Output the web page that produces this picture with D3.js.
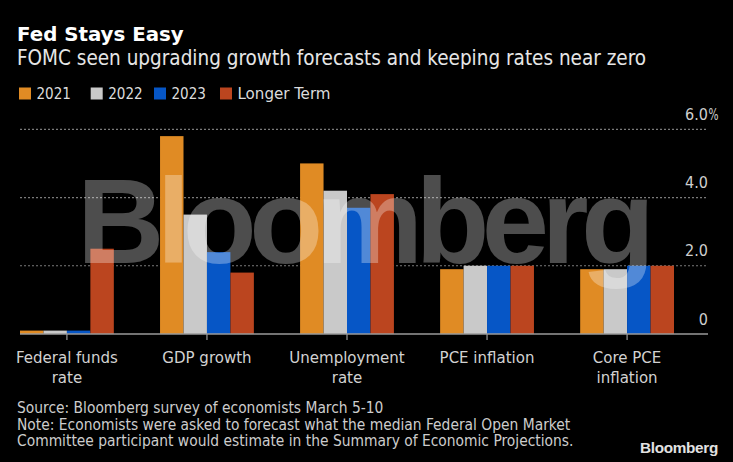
<!DOCTYPE html>
<html>
<head>
<meta charset="utf-8">
<script src="https://cdn.jsdelivr.net/npm/d3@7"></script>
<style>
  html, body { margin: 0; padding: 0; background: #000; }
  svg { display: block; }
</style>
</head>
<body>
<svg id="chart" width="733" height="462"></svg>
<script>
// ---- Data ----
const categories = ["Federal funds rate", "GDP growth", "Unemployment rate", "PCE inflation", "Core PCE inflation"];
const categoryLines = [["Federal funds", "rate"], ["GDP growth"], ["Unemployment", "rate"], ["PCE inflation"], ["Core PCE", "inflation"]];
const seriesNames = ["2021", "2022", "2023", "Longer Term"];
const values2021 = [0.1, 5.8, 5.0, 1.9, 1.9];
const values2022 = [0.1, 3.5, 4.2, 2.0, 1.9];
const values2023 = [0.1, 2.4, 3.7, 2.0, 2.0];
const valuesLonger = [2.5, 1.8, 4.1, 2.0, 2.0];
const yTicks = [0, 2, 4, 6];
const yTickLabels = ["0", "2.0", "4.0", "6.0"];
const seriesColors = ["#e08b24", "#c9c9c9", "#0656c6", "#bb451f"];

const title = "Fed Stays Easy";
const subtitle = "FOMC seen upgrading growth forecasts and keeping rates near zero";
const footer = [
  "Source: Bloomberg survey of economists March 5-10",
  "Note: Economists were asked to forecast what the median Federal Open Market",
  "Committee participant would estimate in the Summary of Economic Projections."
];

// ---- Build ----
const allValues = [values2021, values2022, values2023, valuesLonger];
const table = categories.map((c, i) => ({
  category: c,
  values: seriesNames.map((s, j) => ({ series: s, value: allValues[j][i] }))
}));

const svg = d3.select("#chart");
const FONT = "'DejaVu Sans Condensed', 'DejaVu Sans', sans-serif";

svg.append("rect").attr("width", 733).attr("height", 462).attr("fill", "#000");

// Title & subtitle
svg.append("text").attr("x", 17).attr("y", 40.5)
  .attr("font-family", "'DejaVu Sans', sans-serif").attr("font-weight", "bold")
  .attr("font-size", 19.8).attr("fill", "#fff").text(title);
svg.append("text").attr("x", 17).attr("y", 65)
  .attr("font-family", FONT).attr("font-size", 20.5).attr("fill", "#e6e6e6").text(subtitle);

// Legend
const legendX = [19, 90.7, 154, 220];
seriesNames.forEach((s, i) => {
  svg.append("rect").attr("x", legendX[i]).attr("y", 87.5).attr("width", 12).attr("height", 12).attr("fill", seriesColors[i]);
  const t = svg.append("text").attr("x", legendX[i] + 17.5).attr("y", 99.3)
    .attr("font-family", FONT).attr("font-size", 16.5).attr("fill", "#dcdcdc").text(s);
  const target = i < 3 ? 34.5 : 93;
  t.attr("textLength", target).attr("lengthAdjust", "spacingAndGlyphs");
});

// Scales
const y = d3.scaleLinear().domain([0, 6]).range([334, 129.3]);
const x = d3.scaleBand().domain(categories).range([20, 674]).paddingInner(0.33).paddingOuter(0);
const xs = d3.scaleBand().domain(seriesNames).range([0, x.bandwidth()]).padding(0);
const plotLeft = 20, plotRight = 708;

// Gridlines
svg.append("g").selectAll("line").data(yTicks.filter(d => d > 0)).join("line")
  .attr("x1", plotLeft).attr("x2", plotRight)
  .attr("y1", d => y(d)).attr("y2", d => y(d))
  .attr("stroke", "#7a7a7a").attr("stroke-width", 1.2).attr("stroke-dasharray", "2,2");

// Y tick labels
const yl = svg.append("g");
yTicks.forEach((v, i) => {
  yl.append("text").attr("x", plotRight).attr("y", y(v) - 9.5)
    .attr("text-anchor", "end").attr("font-family", FONT).attr("font-size", 16)
    .attr("fill", "#cfcfcf").text(yTickLabels[i]);
  if (i === yTicks.length - 1) {
    yl.append("text").attr("x", plotRight + 0.5).attr("y", y(v) - 9.5)
      .attr("font-family", FONT).attr("font-size", 16).attr("fill", "#cfcfcf")
      .attr("textLength", 10).attr("lengthAdjust", "spacingAndGlyphs").text("%");
  }
});

// Bars
const groups = svg.append("g").selectAll("g").data(table).join("g")
  .attr("transform", d => `translate(${x(d.category)},0)`);
groups.selectAll("rect").data(d => d.values).join("rect")
  .attr("x", d => xs(d.series))
  .attr("width", xs.bandwidth())
  .attr("y", d => y(d.value))
  .attr("height", d => y(0) - y(d.value))
  .attr("fill", (d, i) => seriesColors[i]);

// Baseline & ticks
svg.append("line").attr("x1", plotLeft).attr("x2", plotRight).attr("y1", y(0)).attr("y2", y(0))
  .attr("stroke", "#9a9a9a").attr("stroke-width", 1.5);
svg.append("g").selectAll("line").data(categories).join("line")
  .attr("x1", d => x(d) + x.bandwidth() / 2).attr("x2", d => x(d) + x.bandwidth() / 2)
  .attr("y1", y(0)).attr("y2", y(0) + 6)
  .attr("stroke", "#9a9a9a").attr("stroke-width", 1.2);

// X labels
categories.forEach((c, i) => {
  const t = svg.append("text").attr("text-anchor", "middle")
    .attr("font-family", FONT).attr("font-size", 16.7).attr("fill", "#d2d2d2");
  categoryLines[i].forEach((line, k) => {
    t.append("tspan").attr("x", x(c) + x.bandwidth() / 2).attr("y", 363.3 + k * 20).text(line);
  });
});

// Watermark
svg.append("text").attr("x", 77).attr("y", 263.3)
  .attr("font-family", "'Liberation Sans', Arial, sans-serif").attr("font-weight", "bold")
  .attr("font-size", 121).attr("textLength", 578).attr("lengthAdjust", "spacing")
  .attr("fill", "#fff").attr("fill-opacity", 0.3).text("Bloomberg");

// Footer
footer.forEach((line, i) => {
  svg.append("text").attr("x", 17).attr("y", 413.3 + i * 16.5)
    .attr("font-family", FONT).attr("font-size", 15.4).attr("fill", "#cccccc").text(line);
});

// Logo
svg.append("text").attr("x", 718).attr("y", 453).attr("text-anchor", "end")
  .attr("font-family", "'Liberation Sans', Arial, sans-serif").attr("font-weight", "bold")
  .attr("font-size", 15.3).attr("letter-spacing", -0.3).attr("fill", "#e2e2e2").text("Bloomberg");
</script>
</body>
</html>
